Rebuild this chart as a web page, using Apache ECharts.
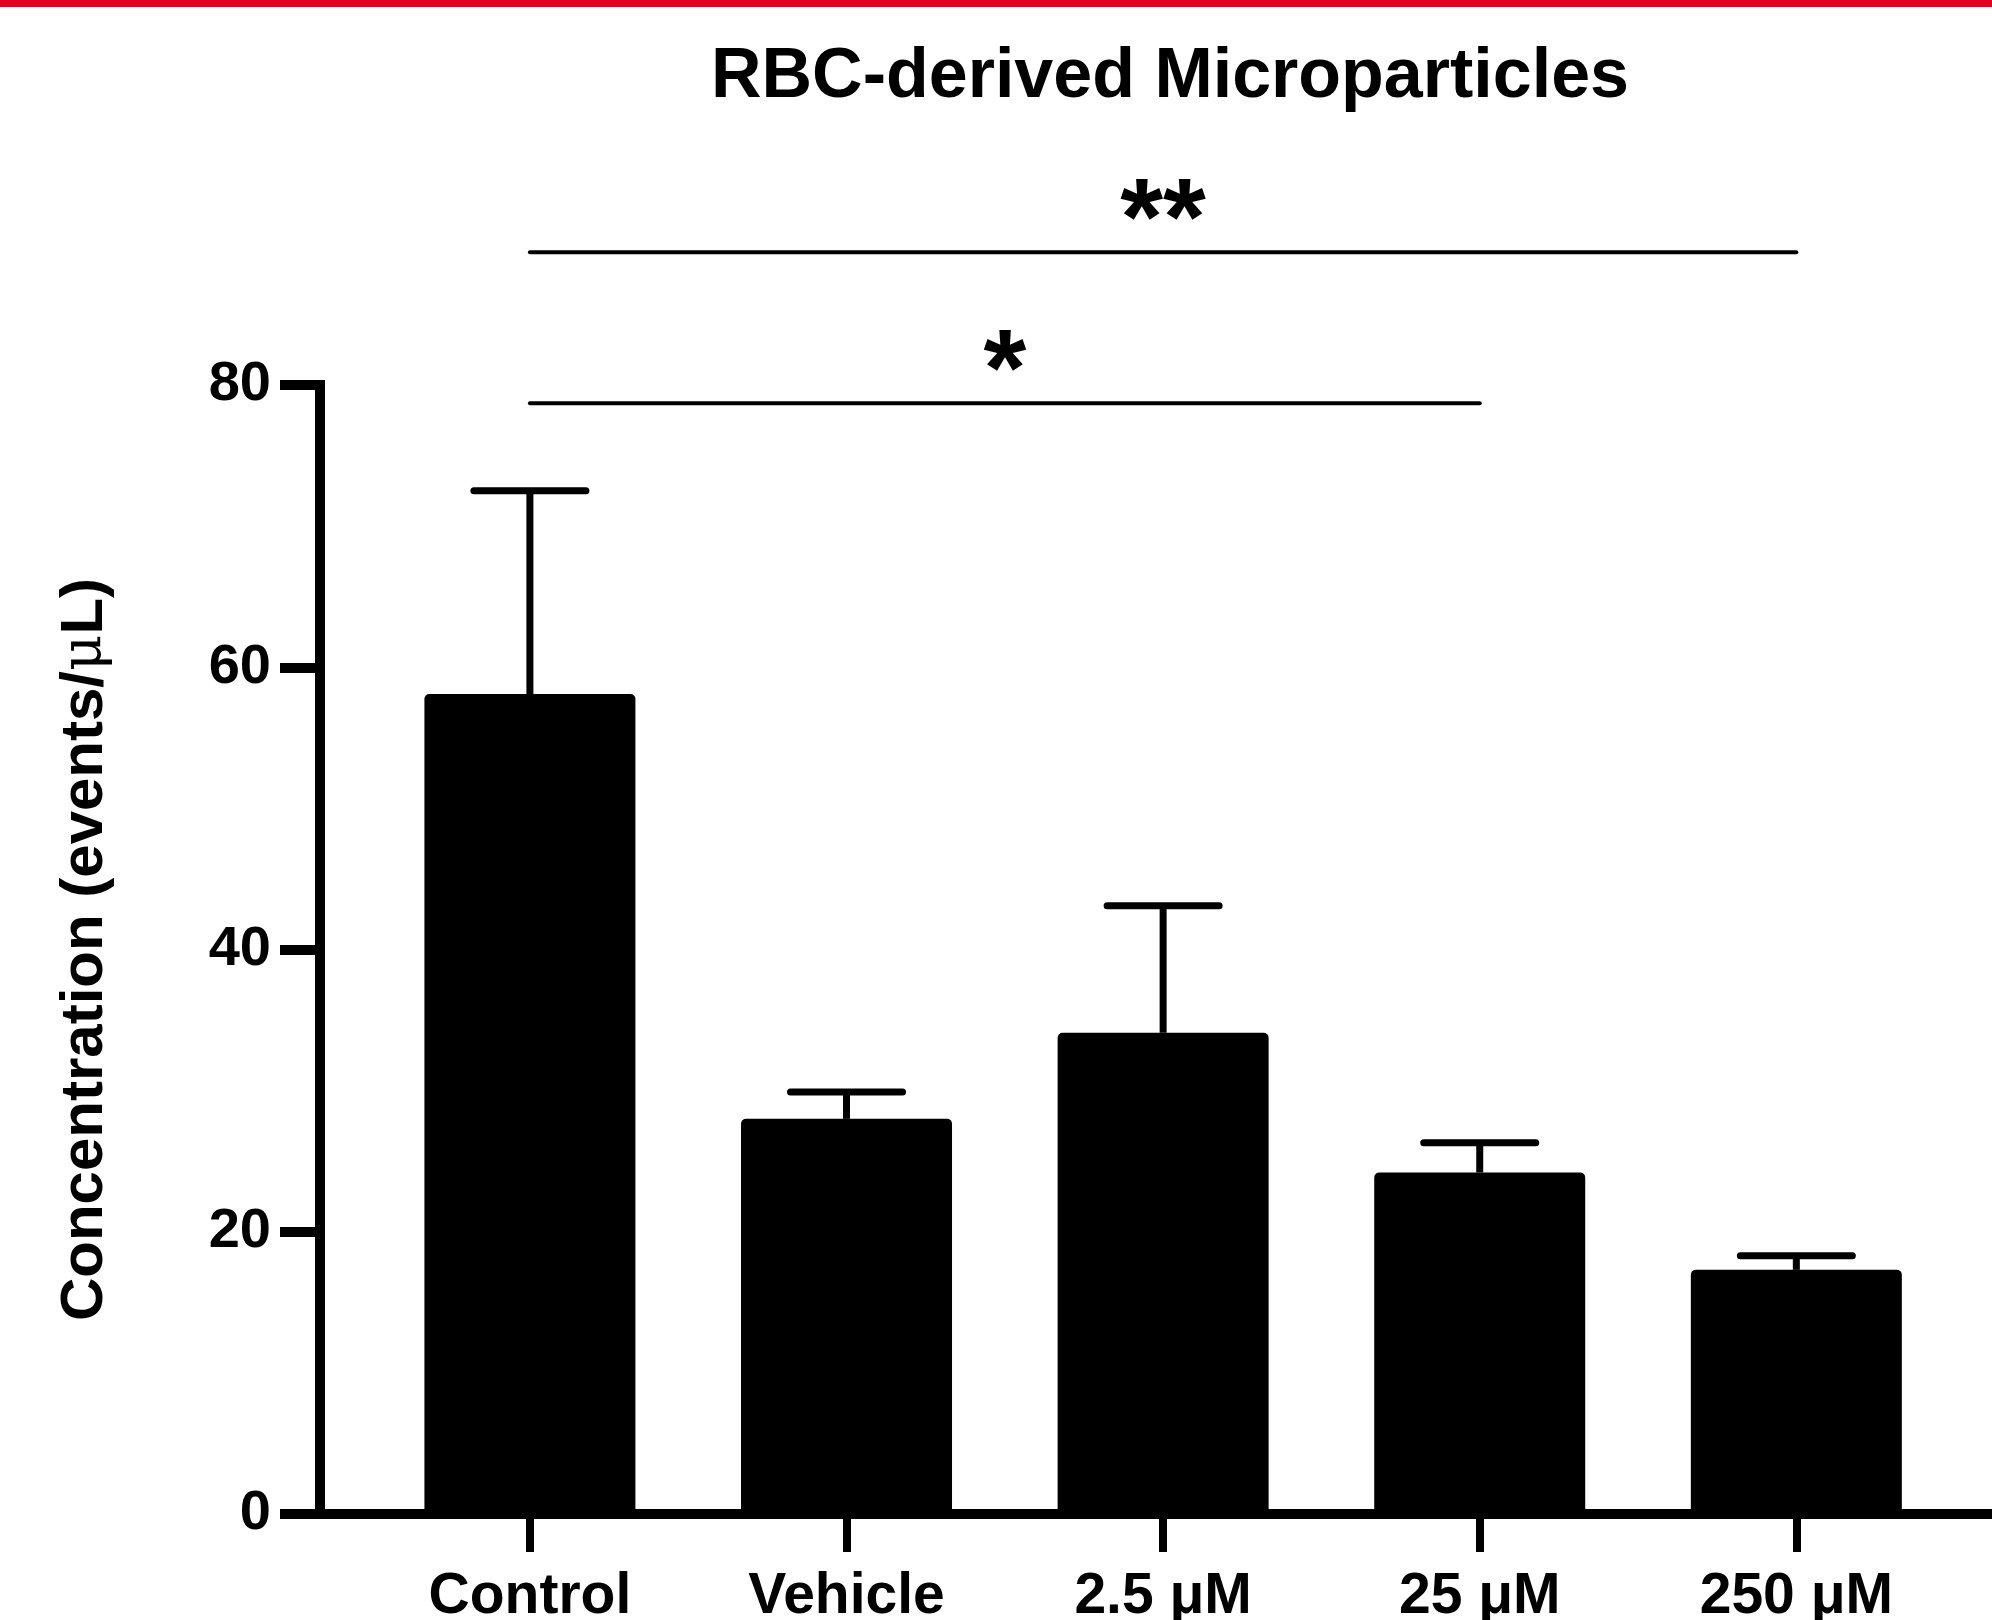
<!DOCTYPE html>
<html>
<head>
<meta charset="utf-8">
<script src="https://cdn.jsdelivr.net/npm/echarts@6/dist/echarts.min.js"></script>
<style>
  html, body { margin: 0; padding: 0; background: #fff; }
  #chart { width: 1992px; height: 1620px; }
</style>
</head>
<body>
<div id="chart"></div>
<script>
// data
const categories = ['Control', 'Vehicle', '2.5 μM', '25 μM', '250 μM'];
const means = [58.1, 28.0, 34.1, 24.2, 17.3];
const upper = [72.5, 29.9, 43.1, 26.3, 18.3]; // mean + error (bars only go up)
const yTicks = [0, 20, 40, 60, 80];
// significance brackets: [from, to, height, label]
const sigFrom = [0, 0];
const sigTo = [3, 4];
const sigY = [78.7, 89.4];
const sigText = ['*', '**'];

const FONT = '"Liberation Sans", Arial, sans-serif';

const chart = echarts.init(document.getElementById('chart'));

const option = {
    backgroundColor: '#fff',
    animation: false,
    title: {
        text: 'RBC-derived Microparticles',
        left: 1165,
        textAlign: 'center',
        top: 38,
        textStyle: { fontFamily: FONT, fontWeight: 'bold', fontSize: 70, color: '#000' }
    },
    graphic: [
        // red band along the top edge
        { type: 'rect', left: 0, top: 0, shape: { width: 1992, height: 7 }, style: { fill: '#e1001e' } }
    ],
    grid: { left: 320, right: 0, top: 385, bottom: 106, outerBoundsMode: 'none' },
    xAxis: {
        type: 'value',
        min: -0.663,
        max: 4.618,
        splitLine: { show: false },
        axisLine: { show: true, lineStyle: { color: '#000', width: 10 } },
        axisTick: { show: true, customValues: [0, 1, 2, 3, 4], length: 38, lineStyle: { color: '#000', width: 8 } },
        axisLabel: {
            customValues: [0, 1, 2, 3, 4],
            formatter: v => categories[Math.round(v)],
            margin: 55,
            color: '#000',
            fontFamily: FONT,
            fontWeight: 'bold',
            fontSize: 57
        }
    },
    yAxis: {
        type: 'value',
        min: yTicks[0],
        max: yTicks[yTicks.length - 1],
        interval: 20,
        splitLine: { show: false },
        axisLine: { show: true, onZero: false, lineStyle: { color: '#000', width: 10, cap: 'square' } },
        axisTick: { show: true, length: 40, lineStyle: { color: '#000', width: 10 } },
        axisLabel: { margin: 49, color: '#000', fontFamily: FONT, fontWeight: 'bold', fontSize: 56 },
        name: '{t|Concentration (events/}{mu|μ}{t|L)}',
        nameLocation: 'middle',
        nameGap: 205,
        nameRotate: 90,
        nameTextStyle: {
            rich: {
                t: { fontFamily: FONT, fontWeight: 'bold', fontSize: 60, color: '#000' },
                mu: { fontFamily: '"DejaVu Serif", serif', fontWeight: 'normal', fontSize: 56, color: '#000' }
            }
        }
    },
    series: [
        {
            type: 'bar',
            barWidth: 211,
            itemStyle: { color: '#000', borderRadius: [5, 5, 0, 0] },
            data: means.map((v, i) => [i, v])
        },
        {
            // error bars
            type: 'custom',
            clip: false,
            z: 3,
            data: means.map((v, i) => [i, v, upper[i]]),
            renderItem: function (params, api) {
                const base = api.coord([api.value(0), api.value(1)]);
                const top = api.coord([api.value(0), api.value(2)]);
                const half = 56;
                const st = { stroke: '#000', lineWidth: 7, lineCap: 'round' };
                return {
                    type: 'group',
                    children: [
                        { type: 'line', shape: { x1: base[0], y1: base[1], x2: top[0], y2: top[1] }, style: { stroke: '#000', lineWidth: 7 } },
                        { type: 'line', shape: { x1: top[0] - half, y1: top[1], x2: top[0] + half, y2: top[1] }, style: st }
                    ]
                };
            }
        },
        {
            // significance lines
            type: 'custom',
            clip: false,
            z: 4,
            data: sigY.map((y, k) => [sigFrom[k], sigTo[k], y, sigText[k]]),
            renderItem: function (params, api) {
                const a = api.coord([api.value(0), api.value(2)]);
                const b = api.coord([api.value(1), api.value(2)]);
                const label = sigText[params.dataIndex];
                return {
                    type: 'group',
                    children: [
                        { type: 'line', shape: { x1: a[0], y1: a[1], x2: b[0], y2: b[1] }, style: { stroke: '#000', lineWidth: 4, lineCap: 'round' } },
                        {
                            type: 'text',
                            x: (a[0] + b[0]) / 2,
                            y: a[1] - 29,
                            style: {
                                text: label,
                                fontFamily: FONT,
                                fontWeight: 'bold',
                                fontSize: 110,
                                fill: '#000',
                                align: 'center',
                                verticalAlign: 'middle'
                            }
                        }
                    ]
                };
            }
        }
    ]
};

chart.setOption(option);
</script>
</body>
</html>
